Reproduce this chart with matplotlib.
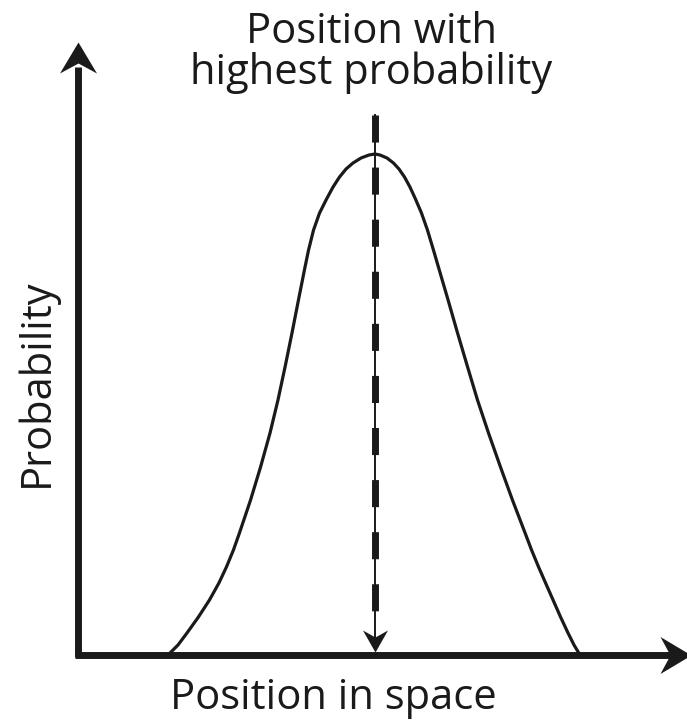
import numpy as np
import matplotlib
matplotlib.use("Agg")
import matplotlib.pyplot as plt
from matplotlib.path import Path

# Probability of finding the particle at each position (arbitrary units)
position = [15.00, 16.67, 18.17, 20.08, 21.92, 23.50, 24.75, 25.92, 26.92,
            28.75, 30.42, 32.00, 33.33, 34.58, 35.67, 36.75, 37.83, 38.42,
            39.25, 40.25, 41.42, 42.50, 43.58, 44.67, 45.83, 47.17, 48.50,
            49.50,
            50.33, 51.50, 52.58, 53.50, 54.42, 55.33, 56.25, 57.25, 58.25,
            59.25, 60.08, 61.67, 63.25, 64.83, 66.58, 68.42, 70.42, 72.42,
            74.50, 75.58, 76.75, 77.92, 79.17, 80.42, 81.67, 82.67, 83.67]
probability = [0.000, 0.020, 0.044, 0.076, 0.110, 0.144, 0.176, 0.210, 0.244,
               0.309, 0.375, 0.443, 0.509, 0.579, 0.643, 0.709, 0.774, 0.808,
               0.848, 0.882, 0.910, 0.934, 0.954, 0.970, 0.982, 0.992, 0.998,
               1.000,
               0.998, 0.992, 0.982, 0.970, 0.954, 0.934, 0.910, 0.882, 0.848,
               0.808, 0.774, 0.709, 0.643, 0.579, 0.509, 0.443, 0.375, 0.309,
               0.244, 0.210, 0.176, 0.144, 0.110, 0.076, 0.044, 0.020, 0.000]

title_lines = ["Position with", "highest probability"]
x_label = "Position in space"
y_label = "Probability"

# ---- layout (figure pixels) ----
W, H, DPI = 687, 720, 100
ORIGIN_PX = (78, 655)          # where the two axes meet
PX_PER_POS = 6.0               # horizontal pixels per position unit
PX_PER_PROB = 501.0            # vertical pixels per probability unit
X_TIP, Y_TIP = 102.2, 1.2236   # arrow tips of the axes (data units)
MARKER_TOP = 1.078             # top of the dashed marker line

ink = "#1a1a1a"
plt.rcParams["font.family"] = ["Open Sans", "DejaVu Sans"]

fig = plt.figure(figsize=(W / DPI, H / DPI), dpi=DPI)
ax = fig.add_axes([0, 0, 1, 1])
ax.set_xlim(-ORIGIN_PX[0] / PX_PER_POS, (W - ORIGIN_PX[0]) / PX_PER_POS)
ax.set_ylim(-(H - ORIGIN_PX[1]) / PX_PER_PROB, ORIGIN_PX[1] / PX_PER_PROB)
ax.axis("off")


def head(length, width, notch):
    """Stealth-style arrowhead pointing up, tip at the origin."""
    verts = [(0, 0), (width / 2, -length), (0, -notch), (-width / 2, -length), (0, 0)]
    codes = [Path.MOVETO, Path.LINETO, Path.LINETO, Path.LINETO, Path.CLOSEPOLY]
    return Path(verts, codes)


def rotated(path, deg):
    t = matplotlib.transforms.Affine2D().rotate_deg(deg)
    return t.transform_path(path)


def head_size(length, width):
    return 2 * max(length, width / 2) * 72 / DPI


axis_lw = 5.0
# axes lines
ax.plot([-0.5, X_TIP - 3.0], [0, 0], color=ink, lw=axis_lw, solid_capstyle="butt",
        clip_on=False, zorder=3)
ax.plot([0, 0], [-0.004, Y_TIP - 0.05], color=ink, lw=axis_lw, solid_capstyle="butt",
        clip_on=False, zorder=3)
# axis arrowheads
ax_head = head(31, 37, 21)
ms = head_size(31, 37)
ax.plot([0], [Y_TIP], marker=ax_head, ms=ms, color=ink, mew=0, clip_on=False, zorder=4)
ax.plot([X_TIP], [0], marker=rotated(ax_head, -90), ms=ms, color=ink, mew=0,
        clip_on=False, zorder=4)

# probability curve
ax.plot(position, probability, color=ink, lw=2.3, solid_joinstyle="round",
        solid_capstyle="round", zorder=2)

# marker at the most probable position
peak_pos = position[int(np.argmax(probability))]
ax.plot([peak_pos, peak_pos], [MARKER_TOP, 0.03], color=ink, lw=1.4, zorder=2)
ax.plot([peak_pos, peak_pos], [MARKER_TOP, 0.05], color=ink, lw=5.0,
        dashes=(3.9, 3.6), dash_capstyle="butt", zorder=2)
dn_head = rotated(head(22, 25, 15), 180)
ax.plot([peak_pos], [0.006], marker=dn_head, ms=head_size(22, 25), color=ink,
        mew=0, zorder=4)

# text
fs = 30


def fx(px):
    return px / W


def fy(py):
    return 1 - py / H


fig.text(fx(372), fy(43), title_lines[0], ha="center", va="baseline", fontsize=fs,
         color=ink)
fig.text(fx(371), fy(84), title_lines[1], ha="center", va="baseline", fontsize=fs,
         color=ink)
fig.text(fx(333), fy(709), x_label, ha="center", va="baseline", fontsize=fs,
         color=ink)
fig.text(fx(48), fy(383), y_label, ha="center", va="baseline", rotation=90,
         rotation_mode="anchor", fontsize=fs, color=ink)

fig.savefig("out.png", dpi=DPI, facecolor="white")
